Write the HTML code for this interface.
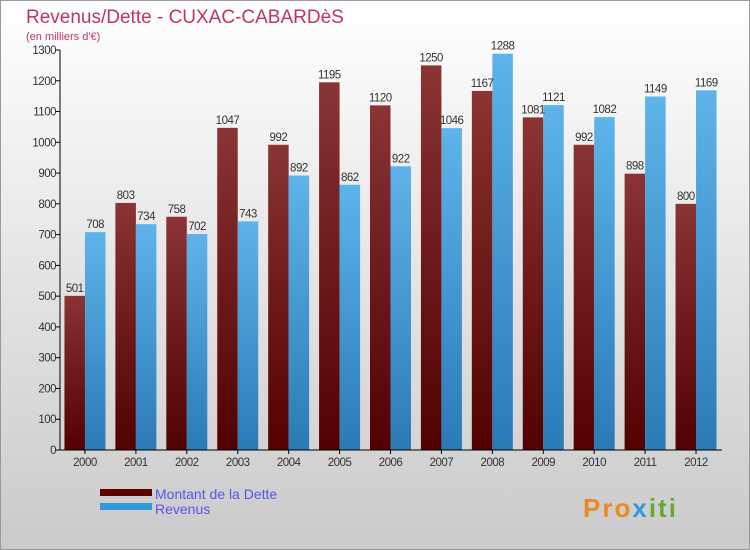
<!DOCTYPE html>
<html><head><meta charset="utf-8"><style>
body{margin:0}
svg{display:block;font-family:"Liberation Sans",sans-serif}
</style></head><body>
<svg id="c" width="750" height="550" viewBox="0 0 750 550">
<defs>
<linearGradient id="bg" x1="0" y1="0" x2="0" y2="1"><stop offset="0" stop-color="#ffffff"/><stop offset="1" stop-color="#cacaca"/></linearGradient>
<linearGradient id="gd" x1="0" y1="0" x2="0" y2="1"><stop offset="0" stop-color="#8a3434"/><stop offset="1" stop-color="#520000"/></linearGradient>
<linearGradient id="gr" x1="0" y1="0" x2="0" y2="1"><stop offset="0" stop-color="#5eb4ea"/><stop offset="1" stop-color="#2a7ab6"/></linearGradient>
</defs>
<rect x="0.5" y="0.5" width="749" height="549" fill="url(#bg)" stroke="#999"/>
<text x="26" y="23" font-size="19" fill="#c0336a" font-weight="300">Revenus/Dette - CUXAC-CABARDèS</text>
<text x="26" y="40" font-size="11" fill="#c0336a">(en milliers d'€)</text>
<g id="plot"></g>
<rect x="100" y="489" width="52" height="7" fill="#5c0000"/>
<rect x="100" y="503" width="52" height="7" fill="#3399dd"/>
<text x="155" y="499" font-size="14" fill="#5555ee">Montant de la Dette</text>
<text x="155" y="514" font-size="14" fill="#5555ee">Revenus</text>
<text x="583" y="517" font-size="26" font-weight="bold" letter-spacing="2" fill="#ee8822">Pro<tspan fill="#3399dd">x</tspan><tspan fill="#66aa33">iti</tspan></text>
</svg>
<script>
const years=["2000","2001","2002","2003","2004","2005","2006","2007","2008","2009","2010","2011","2012"];
const dette=[501,803,758,1047,992,1195,1120,1250,1167,1081,992,898,800];
const revenus=[708,734,702,743,892,862,922,1046,1288,1121,1082,1149,1169];
const yTicks=[0,100,200,300,400,500,600,700,800,900,1000,1100,1200,1300];
const NS="http://www.w3.org/2000/svg";
const g=document.getElementById('plot');
const x0=60,x1=722,yb=450,yt=50,ymax=1300;
const y=v=>yb-(v/ymax)*(yb-yt);
const gw=(x1-x0)/years.length;
function mk(t,a,txt){const e=document.createElementNS(NS,t);for(const k in a)e.setAttribute(k,a[k]);if(txt!=null)e.textContent=txt;g.appendChild(e);return e;}
yTicks.forEach(v=>{
 const l=mk('line',{x1:x0-4,x2:x0,y1:y(v),y2:y(v),stroke:'#000'});
 
 
 const t=mk('text',{x:x0-4,y:y(v)+4,'font-size':11.5,'text-anchor':'end',fill:'#333','letter-spacing':'-0.5'},v);
 
 
});
years.forEach((yr,i)=>{
 const cx=x0+gw*(i+0.5)-0.5;
 const bw=20.5;
 const b1=mk('rect',{x:cx-bw,y:y(dette[i]),width:bw,height:yb-y(dette[i]),fill:'url(#gd)'});
 
 
 const b2=mk('rect',{x:cx,y:y(revenus[i]),width:bw,height:yb-y(revenus[i]),fill:'url(#gr)'});
 
 
 const l1=mk('text',{x:cx-bw/2,y:y(dette[i])-4,'font-size':11.5,'text-anchor':'middle',fill:'#333','letter-spacing':'-0.5'},dette[i]);
 
 
 const l2=mk('text',{x:cx+bw/2,y:y(revenus[i])-4,'font-size':11.5,'text-anchor':'middle',fill:'#333','letter-spacing':'-0.5'},revenus[i]);
 
 
 const tk=mk('line',{x1:cx,x2:cx,y1:yb,y2:yb+4,stroke:'#000'});
 
 
 const xl=mk('text',{x:cx,y:yb+16,'font-size':11.5,'text-anchor':'middle',fill:'#333','letter-spacing':'-0.5'},yr);
 
 
});
const ax=mk('line',{x1:x0,x2:x0,y1:yt,y2:yb,stroke:'#000'});


const bx=mk('line',{x1:x0,x2:x1,y1:yb,y2:yb,stroke:'#000'});


</script>
</body></html>
